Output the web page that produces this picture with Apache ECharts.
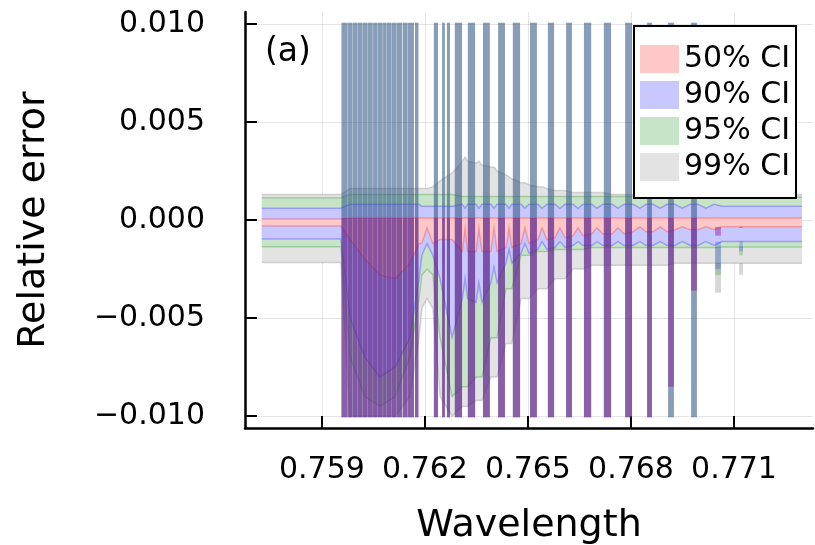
<!DOCTYPE html>
<html><head><meta charset="utf-8">
<script src="https://cdn.jsdelivr.net/npm/echarts@6/dist/echarts.min.js"></script>
<style>html,body{margin:0;padding:0;background:#fff}#c{width:815px;height:545px}</style>
</head><body><div id="c"></div>
<script>
// ---------- data ----------
const xTicks = [0.759, 0.762, 0.765, 0.768, 0.771];
const yTicks = [-0.010, -0.005, 0.000, 0.005, 0.010];
const bandNames = ['50% CI', '90% CI', '95% CI', '99% CI'];

// baseline grid (between absorption lines)
const wl = [0.75725,0.75955,0.75982,0.76025,0.76069,0.76113,0.76156,0.76183,
 0.76191,0.76206,0.76223,0.76244,0.76279,
 0.76309,0.76317,0.76324, 0.76349,0.76357,0.76366, 0.76392,0.76401,0.76410,
 0.76436,0.76445,0.76453, 0.76480,0.76491,0.76503, 0.76529,0.76541,0.76555,
 0.76579,0.76593,0.76608, 0.76631,0.76646,0.76660, 0.76686,0.76701,0.76718,
 0.76745,0.76762,0.76780, 0.76806,0.76826,0.76844, 0.76864,0.76885,0.76905,
 0.76928,0.76949,0.76972, 0.76995,0.77018,0.77042,
 0.77065,0.77123,0.77298];

const up99 = [0.0013,0.0013, 0.0016,0.0016,0.0016,0.0016,0.0016,0.0016,
 0.0016,0.0016,0.0017,0.0020,0.0024,
 0.0030,0.0032,0.0030, 0.0029,0.0030,0.0028, 0.0027,0.0027,0.0025,
 0.0023,0.0022,0.0021, 0.0019,0.0019,0.0018, 0.0017,0.0017,0.0016,
 0.0015,0.0015,0.0015, 0.0014,0.0014,0.0014, 0.0014,0.0014,0.0014,
 0.0013,0.0013,0.0013, 0.0013,0.0013,0.0013, 0.0013,0.0013,0.0013,
 0.0013,0.0013,0.0013, 0.0013,0.0013,0.0013,
 0.0013,0.0013,0.0013];
const lo99 = [-0.00217,-0.00217, -0.0100,-0.0100,-0.0100,-0.0100,-0.009,-0.006,
 -0.0045,-0.0040,-0.0045,-0.009,-0.0100,
 -0.0095,-0.0095,-0.0095, -0.0092,-0.0092,-0.0092, -0.0080,-0.0080,-0.0080,
 -0.0063,-0.0063,-0.0063, -0.0040,-0.0040,-0.0040, -0.0035,-0.0035,-0.0035,
 -0.0030,-0.0030,-0.0030, -0.0025,-0.0025,-0.0025, -0.0023,-0.0023,-0.0023,
 -0.0023,-0.0023,-0.0023, -0.0023,-0.0023,-0.0023, -0.0023,-0.0023,-0.0023,
 -0.0022,-0.0022,-0.0022, -0.0022,-0.0022,-0.0022,
 -0.0022,-0.0022,-0.0022];

const up95 = [0.00113,0.00113, 0.0013,0.0013,0.0013,0.0013,0.0013,0.0013,
 0.0013,0.0013,0.0013,0.0013,0.0013,
 0.0012,0.0012,0.0012, 0.0012,0.0012,0.0012, 0.0012,0.0012,0.0012,
 0.0012,0.0012,0.0012, 0.0012,0.0012,0.0012, 0.0012,0.0012,0.0012,
 0.0012,0.0012,0.0012, 0.0012,0.0012,0.0012, 0.0012,0.0012,0.0012,
 0.0012,0.0012,0.0012, 0.0012,0.0012,0.0012, 0.0012,0.0012,0.0012,
 0.0012,0.0012,0.0012, 0.0012,0.0012,0.0012,
 0.00117,0.00117,0.00117];
const lo95 = [-0.00136,-0.00136, -0.007,-0.009,-0.0095,-0.009,-0.007,-0.004,
 -0.0028,-0.0025,-0.0028,-0.006,-0.009,
 -0.0085,-0.0085,-0.0085, -0.0080,-0.0080,-0.0080, -0.0060,-0.0060,-0.0060,
 -0.0035,-0.0035,-0.0035, -0.0018,-0.0018,-0.0018, -0.0016,-0.0016,-0.0016,
 -0.0015,-0.0015,-0.0015, -0.0015,-0.0015,-0.0015, -0.0014,-0.0014,-0.0014,
 -0.0014,-0.0014,-0.0014, -0.0014,-0.0014,-0.0014, -0.0014,-0.0014,-0.0014,
 -0.0014,-0.0014,-0.0014, -0.0014,-0.0014,-0.0014,
 -0.00137,-0.00137,-0.00137];

const up90 = [0.0006,0.0006, 0.0008,0.0008,0.0008,0.0008,0.0008,0.0008,
 0.0007,0.0007,0.0007,0.0007,0.0007,
 0.0008,0.0006,0.0008, 0.0008,0.0006,0.0008, 0.0008,0.0006,0.0008,
 0.0008,0.0006,0.0008, 0.0008,0.0006,0.0008, 0.0008,0.0006,0.0008,
 0.0008,0.0006,0.0008, 0.0008,0.0006,0.0008, 0.0008,0.0006,0.0008,
 0.0008,0.0006,0.0008, 0.0008,0.0006,0.0008, 0.0008,0.0006,0.0008,
 0.0008,0.0006,0.0008, 0.0008,0.0006,0.0008,
 0.0007,0.0007,0.0007];
const lo90 = [-0.00097,-0.00097, -0.005,-0.007,-0.008,-0.0075,-0.006,-0.003,
 -0.0018,-0.0012,-0.0018,-0.003,-0.006,
 -0.0040,-0.0030,-0.0040, -0.0042,-0.0032,-0.0042, -0.0032,-0.0024,-0.0032,
 -0.0022,-0.0015,-0.0022, -0.0017,-0.0012,-0.0017, -0.0015,-0.0011,-0.0015,
 -0.0014,-0.0011,-0.0014, -0.0013,-0.0011,-0.0013, -0.0013,-0.0011,-0.0013,
 -0.0013,-0.0011,-0.0013, -0.0013,-0.0011,-0.0013, -0.0013,-0.0011,-0.0013,
 -0.0013,-0.0011,-0.0013, -0.0013,-0.0011,-0.0013,
 -0.0011,-0.0011,-0.0011];

const up50 = [0.00005,0.00005, 0.0001,0.0001,0.0001,0.0001,0.0001,0.0001,
 0.0001,0.0001,0.0001,0.0001,0.0001,
 0.0001,0.0001,0.0001, 0.0001,0.0001,0.0001, 0.0001,0.0001,0.0001,
 0.0001,0.0001,0.0001, 0.0001,0.0001,0.0001, 0.0001,0.0001,0.0001,
 0.0001,0.0001,0.0001, 0.0001,0.0001,0.0001, 0.0001,0.0001,0.0001,
 0.0001,0.0001,0.0001, 0.0001,0.0001,0.0001, 0.0001,0.0001,0.0001,
 0.0001,0.0001,0.0001, 0.0001,0.0001,0.0001,
 0.0001,0.0001,0.0001];
const lo50 = [-0.0003,-0.0003, -0.001,-0.002,-0.0028,-0.003,-0.0022,-0.0012,
 -0.0012,-0.0004,-0.0012,-0.001,-0.001,
 -0.0016,-0.0004,-0.0016, -0.0016,-0.0004,-0.0016, -0.0016,-0.0004,-0.0016,
 -0.0014,-0.0004,-0.0014, -0.0012,-0.0004,-0.0012, -0.0010,-0.0004,-0.0010,
 -0.0009,-0.0004,-0.0009, -0.0008,-0.0004,-0.0008, -0.0007,-0.0004,-0.0007,
 -0.0007,-0.0004,-0.0007, -0.0006,-0.00035,-0.0006, -0.0006,-0.00035,-0.0006,
 -0.0005,-0.00035,-0.0005, -0.0005,-0.00035,-0.0005,
 -0.00035,-0.00035,-0.00035];

// absorption lines: wavelength span where the intervals blow up
const spikeFrom = [0.75957,0.75976,0.75990,0.76005,0.76019,0.76034,0.76049,0.76063,0.76078,0.76089,0.76104,0.76118,0.76136,0.76150,0.76171,
 0.76226,0.76250,0.76264,0.76287,0.76325,0.76369,0.76413,0.76456,0.76506,0.76558,0.76611,0.76663,0.76721,0.76783,0.76847,0.76908,0.76975,0.77045,0.77115];
const spikeTo = [0.75975,0.75989,0.76004,0.76018,0.76033,0.76048,0.76062,0.76077,0.76088,0.76103,0.76117,0.76134,0.76149,0.76168,0.76181,
 0.76238,0.76258,0.76273,0.76308,0.76346,0.76389,0.76433,0.76477,0.76526,0.76576,0.76628,0.76684,0.76742,0.76803,0.76861,0.76925,0.76992,0.77062,0.77126];
const F = 0.01005; // values are cut at about ±0.010
const spkTop99 = [F,F,F,F,F,F,F,F,F,F,F,F,F,F,F,F,F,F,F,F,F,F,F,F,F,F,F,F,F,F,F,F,-0.0022,-0.0022];
const spkBot99 = [-F,-F,-F,-F,-F,-F,-F,-F,-F,-F,-F,-F,-F,-F,-F,-F,-F,-F,-F,-F,-F,-F,-F,-F,-F,-F,-F,-F,-F,-F,-F,-F,-0.0037,-0.0028];
const spkTop95 = [F,F,F,F,F,F,F,F,F,F,F,F,F,F,F,F,F,F,F,F,F,F,F,F,F,F,F,F,F,F,F,F,-0.00137,-0.00137];
const spkBot95 = [-F,-F,-F,-F,-F,-F,-F,-F,-F,-F,-F,-F,-F,-F,-F,-F,-F,-F,-F,-F,-F,-F,-F,-F,-F,-F,-F,-F,-F,-F,-F,-F,-0.0028,-0.0018];
const spkTop90 = [F,F,F,F,F,F,F,F,F,F,F,F,F,F,F,F,F,F,F,F,F,F,F,F,F,F,F,F,F,F,F,F,-0.0011,-0.0011];
const spkBot90 = [-F,-F,-F,-F,-F,-F,-F,-F,-F,-F,-F,-F,-F,-F,-F,-F,-F,-F,-F,-F,-F,-F,-F,-F,-F,-F,-F,-F,-F,-F,-F,-F,-0.0025,-0.0016];
const spkTop50 = [0.0001,0.0001,0.0001,0.0001,0.0001,0.0001,0.0001,0.0001,0.0001,0.0001,0.0001,0.0001,0.0001,0.0001,0.0001,0.0001,0.0001,
 0.0001,0.0001,0.0001,0.0001,0.0001,0.0001,0.0001,0.0001,0.0001,0.0001,0.0001,0.0001,0.0001,0.0001,0.0001,-0.00035,-0.00035];
const spkBot50 = [-F,-F,-F,-F,-F,-F,-F,-F,-F,-F,-F,-F,-F,-F,-F,-F,-F,-F,-F,-F,-F,-F,-F,-F,-F,-F,-F,-F,-F,-F,-0.0085,-0.0036,-0.0008,-0.0004];

// ---------- chart ----------
const FONT = 'DejaVu Sans';
const bands = [
  {name: bandNames[3], up: up99, lo: lo99, sTop: spkTop99, sBot: spkBot99, fill: '#e3e3e3', edge: 'rgba(128,128,128,0.30)', spike: 'rgba(128,128,128,0.32)'},
  {name: bandNames[2], up: up95, lo: lo95, sTop: spkTop95, sBot: spkBot95, fill: '#c8e4c8', edge: 'rgba(0,128,0,0.25)', spike: 'rgba(0,128,0,0.21)'},
  {name: bandNames[1], up: up90, lo: lo90, sTop: spkTop90, sBot: spkBot90, fill: '#c8c8ff', edge: 'rgba(0,0,255,0.25)', spike: 'rgba(0,0,255,0.19)'},
  {name: bandNames[0], up: up50, lo: lo50, sTop: spkTop50, sBot: spkBot50, fill: '#ffc8c8', edge: 'rgba(255,0,0,0.25)', spike: 'rgba(140,0,150,0.40)'}
];

function clipOf(params) {
  const cs = params.coordSys;
  return {type: 'rect', shape: {x: cs.x, y: cs.y, width: cs.width, height: cs.height}};
}

function bandSeries(b) {
  return {
    type: 'custom', name: b.name, silent: true, clip: true,
    data: [[wl[0], b.lo[0]]], encode: {x: 0, y: 1},
    renderItem: function (params, api) {
      const upPts = wl.map((x, i) => api.coord([x, b.up[i]]));
      const loPts = wl.map((x, i) => api.coord([x, b.lo[i]]));
      const poly = upPts.concat(loPts.slice().reverse());
      return {type: 'group', clipPath: clipOf(params), children: [
        {type: 'polygon', shape: {points: poly}, style: {fill: b.fill}},
        {type: 'polyline', shape: {points: upPts}, style: {fill: null, stroke: b.edge, lineWidth: 1.5}},
        {type: 'polyline', shape: {points: loPts}, style: {fill: null, stroke: b.edge, lineWidth: 1.5}}
      ]};
    }
  };
}
function spikeSeries(b) {
  return {
    type: 'custom', name: b.name, silent: true, clip: true,
    data: spikeFrom.map((f, i) => [f, spikeTo[i], b.sTop[i], b.sBot[i]]),
    encode: {x: [0, 1], y: [2, 3]},
    renderItem: function (params, api) {
      const p1 = api.coord([api.value(0), api.value(2)]);
      const p2 = api.coord([api.value(1), api.value(3)]);
      return {type: 'group', clipPath: clipOf(params), children: [
        {type: 'rect', shape: {x: p1[0], y: p1[1], width: p2[0] - p1[0], height: p2[1] - p1[1]}, style: {fill: b.spike}}
      ]};
    }
  };
}

const series = bands.map(bandSeries).concat(bands.map(spikeSeries));
const fillOf = {};
bands.forEach(b => fillOf[b.name] = b.fill);

const chart = echarts.init(document.getElementById('c'), null, {renderer: 'canvas', width: 815, height: 545});
chart.setOption({
  animation: false,
  backgroundColor: '#fff',
  textStyle: {fontFamily: FONT},
  title: {text: '(a)', left: 265, top: 36, padding: 0,
    textStyle: {fontFamily: FONT, fontSize: 33, fontWeight: 'normal', color: '#000'}},
  legend: {
    left: 634, top: 26, orient: 'vertical', selectedMode: false,
    itemWidth: 39, itemHeight: 28, itemGap: 6, padding: [18, 6, 16, 6],
    backgroundColor: '#fff', borderColor: '#000', borderWidth: 2, borderRadius: 0,
    textStyle: {fontFamily: FONT, fontSize: 30, color: '#000', lineHeight: 28},
    data: bandNames.map(n => ({name: n, icon: 'rect', itemStyle: {color: fillOf[n], borderWidth: 0}}))
  },
  grid: {left: 245, right: 2, top: 12, bottom: 117, containLabel: false, outerBoundsMode: 'none'},
  xAxis: {
    type: 'value', min: 0.75676, max: 0.7733,
    name: 'Wavelength', nameLocation: 'middle', nameGap: 79,
    nameTextStyle: {fontFamily: FONT, fontSize: 38, color: '#000'},
    axisLine: {onZero: false, lineStyle: {color: '#000', width: 2.5}},
    axisTick: {inside: true, length: 12, customValues: xTicks, lineStyle: {color: '#000', width: 2}},
    axisLabel: {customValues: xTicks, margin: 27, fontFamily: FONT, fontSize: 30, color: '#000',
      formatter: v => v.toFixed(3)},
    splitLine: {show: true, lineStyle: {color: 'rgba(0,0,0,0.1)', width: 1}}
  },
  yAxis: {
    type: 'value', min: -0.0106, max: 0.0106,
    name: 'Relative error', nameLocation: 'middle', nameGap: 192, nameRotate: 90,
    nameTextStyle: {fontFamily: FONT, fontSize: 38, color: '#000'},
    axisLine: {onZero: false, lineStyle: {color: '#000', width: 2.5}},
    axisTick: {inside: true, length: 12, customValues: yTicks, lineStyle: {color: '#000', width: 2}},
    axisLabel: {customValues: yTicks, margin: 40, fontFamily: FONT, fontSize: 30, color: '#000',
      formatter: v => (v < 0 ? '\u2212' : '') + Math.abs(v).toFixed(3)},
    splitLine: {show: true, lineStyle: {color: 'rgba(0,0,0,0.1)', width: 1}}
  },
  series: series
});
</script>
</body></html>
